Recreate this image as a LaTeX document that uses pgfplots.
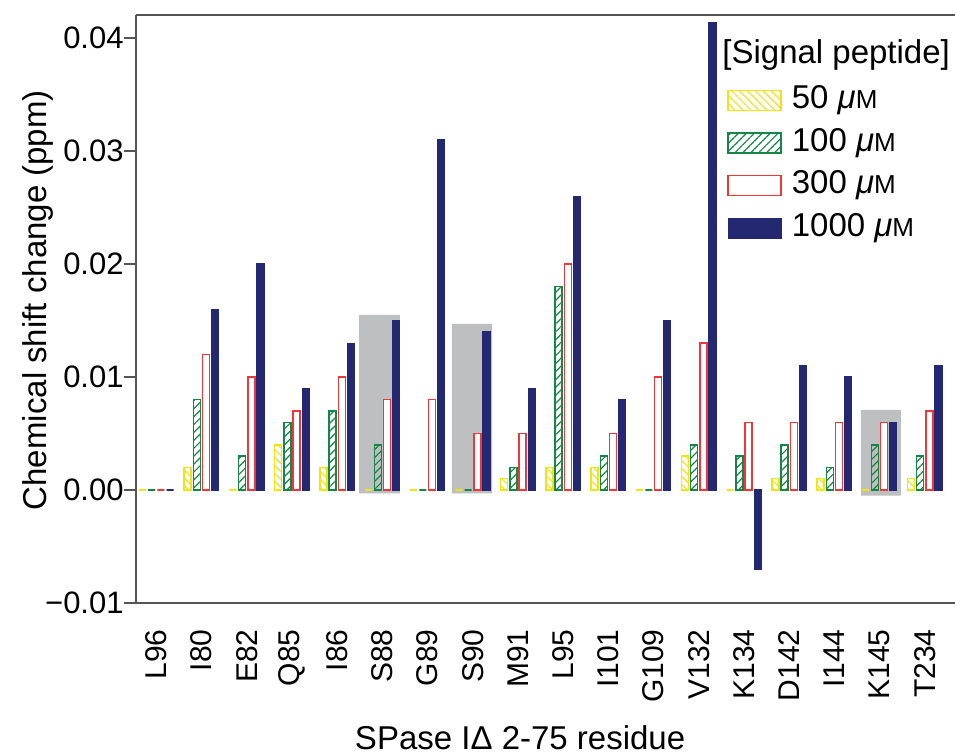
\documentclass[border=0pt]{standalone}
\usepackage{fontspec}
\setmainfont{Liberation Sans}
\usepackage{pgfplots}
\usepackage{pgfplotstable}
\pgfplotsset{compat=1.18}
\usetikzlibrary{patterns,patterns.meta}
\definecolor{cyel}{RGB}{240,228,20}
\definecolor{cgrn}{RGB}{20,135,70}
\definecolor{cred}{RGB}{240,55,55}
\definecolor{cnavy}{RGB}{36,40,112}
\definecolor{cbox}{RGB}{190,191,193}
\definecolor{caxis}{RGB}{85,85,85}
\newcommand{\uM}{ \textit{μ}{\fontsize{13}{13}\selectfont M}}

\pgfplotstableread{
x c50 c100 c300 c1000
0 0 0 0 0
1 0.002 0.008 0.012 0.016
2 0 0.003 0.010 0.020
3 0.004 0.006 0.007 0.009
4 0.002 0.007 0.010 0.013
5 0 0.004 0.008 0.015
6 0 0 0.008 0.031
7 0 0 0.005 0.014
8 0.001 0.002 0.005 0.009
9 0.002 0.018 0.020 0.026
10 0.002 0.003 0.005 0.008
11 0 0 0.010 0.015
12 0.003 0.004 0.013 0.0414
13 0 0.003 0.006 -0.007
14 0.001 0.004 0.006 0.011
15 0.001 0.002 0.006 0.010
16 0 0.004 0.006 0.006
17 0.001 0.003 0.007 0.011
}\data

\pgfplotsset{mylegend/.style={legend image code/.code={\draw[##1] (0pt,-5pt) rectangle (26.5pt,5pt);}}}

\begin{document}
\begin{tikzpicture}
\useasboundingbox (0,0) rectangle (478pt,376.5pt);
\begin{axis}[
  at={(68pt,75pt)}, anchor=south west,
  scale only axis, width=409.5pt, height=294pt,
  xmin=-0.449, xmax=17.67,
  ymin=-0.0100, ymax=0.04204,
  axis x line=box, axis y line=left,
  axis line style={-, draw=caxis, line width=0.7pt},
  xtick={0,1,...,17},
  xticklabels={L96,I80,E82,Q85,I86,S88,G89,S90,M91,L95,I101,G109,V132,K134,D142,I144,K145,T234},
  xtick pos=lower, xticklabel pos=lower,
  ytick pos=left, yticklabel pos=left,
  xtick style={draw=none},
  xticklabel style={rotate=90, anchor=east, inner sep=0pt, font=\fontsize{15}{16}\selectfont},
  xticklabel shift=7pt,
  ytick={-0.01,0,0.01,0.02,0.03,0.04},
  yticklabels={−0.01,0.00,0.01,0.02,0.03,0.04},
  ytick style={draw=caxis, line width=0.7pt},
  tick align=outside,
  major tick length=6pt,
  yticklabel style={inner sep=0pt, font=\fontsize{15.5}{17}\selectfont},
  ylabel={Chemical shift change (ppm)},
  ylabel style={at={([xshift=-49pt]axis description cs:0,0.515)}, anchor=center, font=\fontsize{16.5}{18}\selectfont},
  xlabel={SPase IΔ 2-75 residue},
  xlabel style={at={([yshift=-67.5pt]axis description cs:0.469,0)}, anchor=center, font=\fontsize{16.5}{18}\selectfont},
  legend style={at={(axis description cs:0.7216,0.881)}, anchor=north west, draw=none, fill=none,
    inner sep=0pt, row sep=6.35pt, font=\fontsize{16.5}{18}\selectfont,
    nodes={inner sep=0pt, text height=11.5pt, text depth=3.5pt},
    /tikz/every odd column/.append style={column sep=5pt}},
  legend cell align=left,
  clip=false,
]
% grey highlight boxes
\addplot[fill=cbox, draw=none, forget plot] coordinates {(4.485,-0.0003) (5.39,-0.0003) (5.39,0.0155) (4.485,0.0155) (4.485,-0.0003)};
\addplot[fill=cbox, draw=none, forget plot] coordinates {(6.54,-0.0003) (7.43,-0.0003) (7.43,0.0147) (6.54,0.0147) (6.54,-0.0003)};
\addplot[fill=cbox, draw=none, forget plot] coordinates {(15.59,-0.0005) (16.47,-0.0005) (16.47,0.0071) (15.59,0.0071) (15.59,-0.0005)};
% bars
\addplot[ybar, bar width=3.5pt, bar shift=-6.9pt, draw=cyel, line width=0.7pt,
  pattern={Lines[angle=-45,distance=2.8pt,line width=0.6pt]}, pattern color=cyel, mylegend]
  table[x=x,y=c50]{\data};
\addlegendentry{50\uM}
\addplot[ybar, bar width=3.5pt, bar shift=-2.3pt, draw=cgrn, line width=0.7pt,
  pattern={Lines[angle=45,distance=2.8pt,line width=0.6pt]}, pattern color=cgrn, mylegend]
  table[x=x,y=c100]{\data};
\addlegendentry{100\uM}
\addplot[ybar, bar width=3.5pt, bar shift=2.3pt, draw=cred, line width=0.7pt, fill=white, mylegend]
  table[x=x,y=c300]{\data};
\addlegendentry{300\uM}
\addplot[ybar, bar width=3.5pt, bar shift=6.9pt, draw=cnavy, line width=0.6pt, fill=cnavy, mylegend]
  table[x=x,y=c1000]{\data};
\addlegendentry{1000\uM}
\node[anchor=west, inner sep=0pt, font=\fontsize{16.5}{18}\selectfont] at ([yshift=-20pt]axis description cs:0.7155,1) {[Signal peptide]};
\end{axis}
\end{tikzpicture}
\end{document}
